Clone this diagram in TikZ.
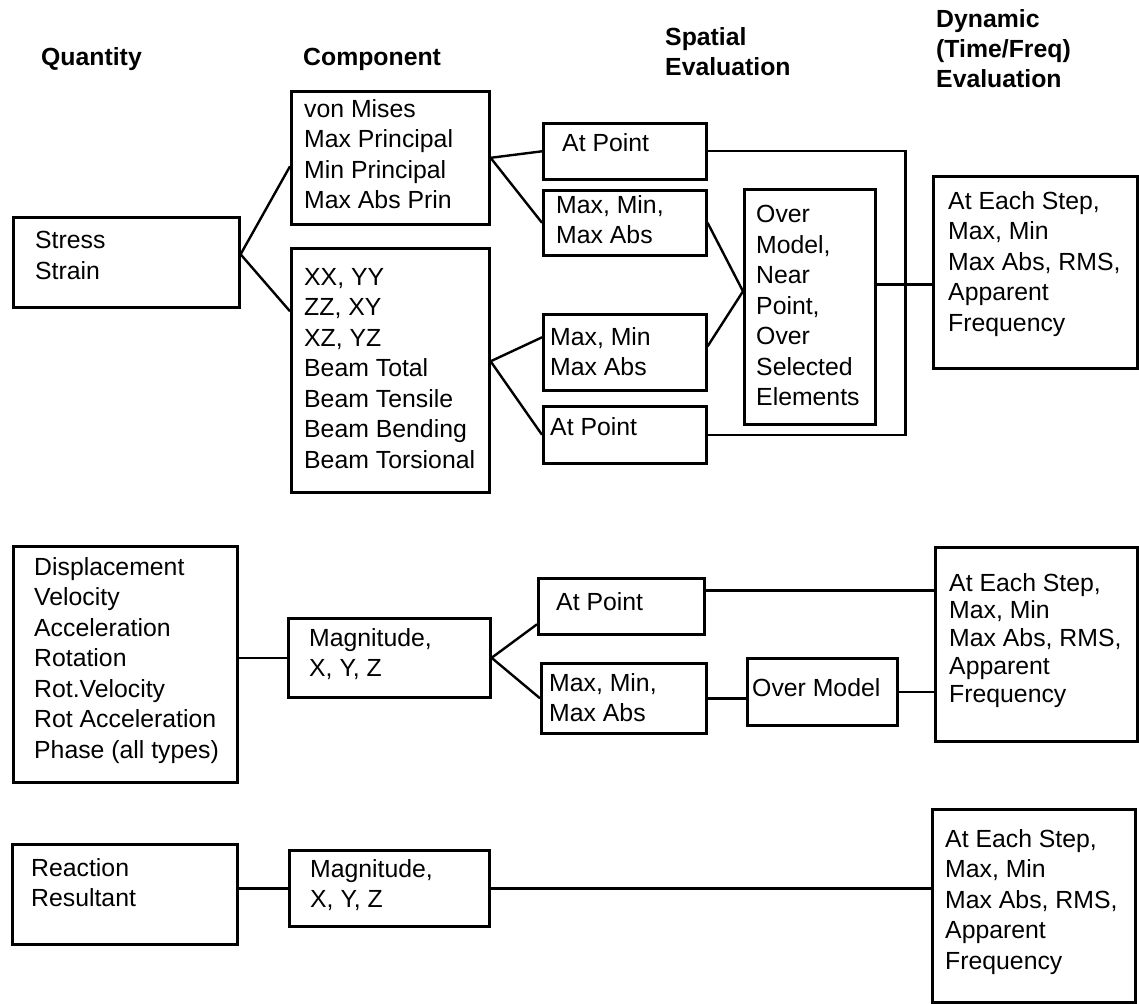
\documentclass[tikz,border=0pt]{standalone}
\usepackage{fontspec}
\setmainfont{Liberation Sans}
\usetikzlibrary{calc,positioning}

\begin{document}
\begin{tikzpicture}[x=1pt, y=-1pt,
  box/.style={draw, line width=2.6pt, inner sep=0pt, anchor=north west},
  txt/.style={align=left, anchor=north west, inner sep=0pt, execute at begin node=\strut},
  lbl/.style={txt, yshift=-3pt, font=\fontsize{24.8}{30.5}\selectfont},
  hdr/.style={txt, font=\fontsize{24.8}{30}\selectfont\bfseries},
  every path/.style={line width=2.4pt}]
\useasboundingbox (0,0) rectangle (1139,1003);
% column heads
\node[hdr] (h-qty) at (40,43) {Quantity};
\node[hdr] (h-comp) at (302,43) {Component};
\node[hdr] (h-spat) at (664,26) {Spatial\\Evaluation};
\node[hdr] (h-dyn) at (935,8) {Dynamic\\(Time/Freq)\\Evaluation};
% stress / strain
\node[box, minimum width=226pt, minimum height=90pt] (stress) at (12,216) {};
\node[box, minimum width=198pt, minimum height=133pt] (vm) at (290,90) {};
\node[box, minimum width=198pt, minimum height=244pt] (comp) at (290,247) {};
\node[box, minimum width=163pt, minimum height=56pt] (apt1) at (542,122) {};
\node[box, minimum width=163pt, minimum height=65pt] (mm1) at (542,189) {};
\node[box, minimum width=163pt, minimum height=76pt] (mm2) at (542,313) {};
\node[box, minimum width=163pt, minimum height=57pt] (apt2) at (542,405) {};
\node[box, minimum width=131pt, minimum height=235pt] (over) at (743,188) {};
\node[box, minimum width=204pt, minimum height=192pt] (dyn1) at (932,175) {};
\node[lbl] (l-stress) at (34,227) {Stress\\Strain};
\node[lbl] (l-vm) at (303,95) {von Mises\\Max Principal\\Min Principal\\Max Abs Prin};
\node[lbl] (l-comp) at (303,264) {XX, YY\\ZZ, XY\\XZ, YZ\\Beam Total\\Beam Tensile\\Beam Bending\\Beam Torsional};
\node[lbl] (l-apt1) at (561,126) {At Point};
\node[lbl] (l-mm1) at (555,191) {Max, Min,\\Max Abs};
\node[lbl] (l-mm2) at (549,323) {Max, Min\\Max Abs};
\node[lbl] (l-apt2) at (549,410) {At Point};
\node[lbl] (l-over) at (755,201) {Over\\Model,\\Near\\Point,\\Over\\Selected\\Elements};
\node[lbl] (l-dyn1) at (947,187) {At Each Step,\\Max, Min\\Max Abs, RMS,\\Apparent\\Frequency};
\draw ([yshift=8pt]stress.east) -- ([yshift=-8.5pt]vm.west);
\draw ([yshift=8pt]stress.east) -- ([yshift=59pt]comp.west);
\draw (vm.east) -- (apt1.west);
\draw (vm.east) -- (mm1.west);
\draw ([yshift=9pt]comp.east) -- ([yshift=15pt]mm2.west);
\draw ([yshift=9pt]comp.east) -- (apt2.west);
\draw (mm1.east) -- ([yshift=15.5pt]over.west);
\draw ([yshift=6pt]mm2.east) -- ([yshift=15.5pt]over.west);
\draw (apt1.east) -- ++(198,0) |- (apt2.east);
\coordinate (o1) at ([yshift=22.5pt]over.east);
\draw (o1) -- (o1 -| dyn1.west);
% displacement etc.
\node[box, minimum width=224pt, minimum height=236pt] (disp) at (12,545) {};
\node[box, minimum width=202pt, minimum height=79pt] (mag1) at (287,617) {};
\node[box, minimum width=166pt, minimum height=56pt] (apt3) at (537,577) {};
\node[box, minimum width=165pt, minimum height=70pt] (mm3) at (540,662) {};
\node[box, minimum width=150pt, minimum height=67pt] (om) at (746,657) {};
\node[box, minimum width=202pt, minimum height=194pt] (dyn2) at (934,546) {};
\node[lbl] (l-disp) at (33,553) {Displacement\\Velocity\\Acceleration\\Rotation\\Rot.Velocity\\Rot Acceleration\\Phase (all types)};
\node[lbl] (l-mag1) at (308,624) {Magnitude,\\X, Y, Z};
\node[lbl] (l-apt3) at (555,585) {At Point};
\node[lbl] (l-mm3) at (548,669) {Max, Min,\\Max Abs};
\node[lbl] (l-om) at (751,671) {Over Model};
\node[lbl, font=\fontsize{24.8}{27.75}\selectfont] (l-dyn2) at (948,569) {At Each Step,\\Max, Min\\Max Abs, RMS,\\Apparent\\Frequency};
\draw (mag1.west -| disp.east) -- (mag1.west);
\draw (mag1.east) -- ([yshift=-18pt]apt3.west);
\draw (mag1.east) -- (mm3.west);
\draw (mm3.east) -- (mm3.east -| om.west);
\draw (om.east) -- (om.east -| dyn2.west);
\coordinate (a3) at ([yshift=16pt]apt3.east);
\draw (a3) -- (a3 -| dyn2.west);
% reaction / resultant
\node[box, minimum width=225pt, minimum height=100pt] (react) at (11,843) {};
\node[box, minimum width=200pt, minimum height=76pt] (mag2) at (288,849) {};
\node[box, minimum width=203pt, minimum height=193pt] (dyn3) at (931,808) {};
\node[lbl] (l-react) at (30,854) {Reaction\\Resultant};
\node[lbl] (l-mag2) at (309,855) {Magnitude,\\X, Y, Z};
\node[lbl] (l-dyn3) at (944,825) {At Each Step,\\Max, Min\\Max Abs, RMS,\\Apparent\\Frequency};
\draw (mag2.west -| react.east) -- (mag2.west);
\draw (mag2.east) -- (mag2.east -| dyn3.west);
\end{tikzpicture}
\end{document}
